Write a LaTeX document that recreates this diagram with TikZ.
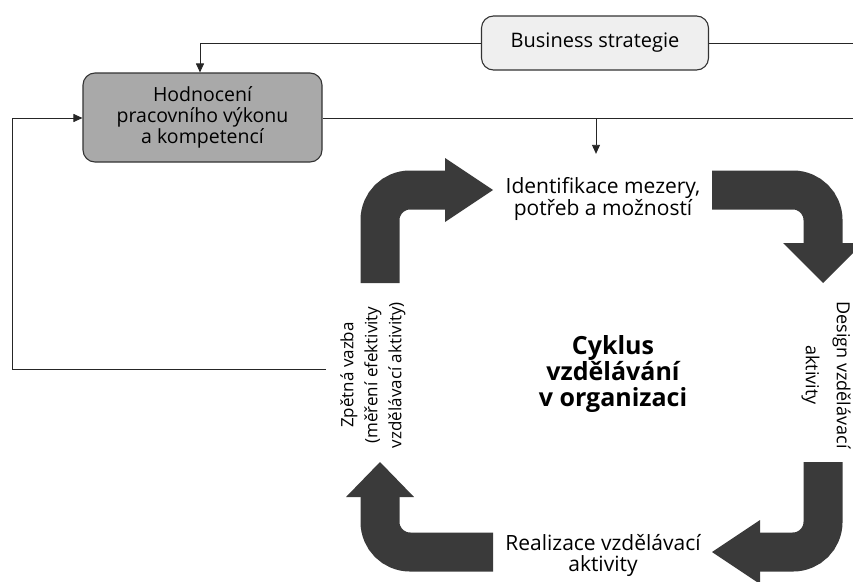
\documentclass[tikz,border=0pt]{standalone}
\usepackage{fontspec}
\setmainfont{Open Sans}
\usetikzlibrary{arrows.meta}
\definecolor{arrowgray}{HTML}{3A3A3A}
\definecolor{boxdark}{HTML}{A9A9A9}
\definecolor{boxlight}{HTML}{EFEFEF}
\definecolor{edgegray}{HTML}{333333}
\begin{document}
\begin{tikzpicture}[x=1pt,y=-1pt,
  box/.style={draw=edgegray, line width=1.1pt, rounded corners=12pt, align=center, inner sep=0pt},
  conn/.style={draw=black!85, line width=0.9pt},
  tip/.style={-{Triangle[length=9pt,width=8pt]}},
  cyc/.style={align=center, font=\fontsize{21}{21}\selectfont},
  side/.style={align=center, font=\fontsize{17}{24}\selectfont},
  bigarrow/.style={draw=arrowgray, line width=39pt, rounded corners=30pt},
  bighead/.style={fill=arrowgray}
]
\useasboundingbox (0,0) rectangle (853,581);
% boxes
\node[box, fill=boxlight, minimum width=227pt, minimum height=54pt,
      font=\fontsize{20}{21}\selectfont] (bs) at (595,43) {Business strategie};
\node[box, fill=boxdark, minimum width=239pt, minimum height=89pt,
      font=\fontsize{19.5}{21}\selectfont] (hod) at (202.5,117.5) {Hodnocení\\pracovního výkonu\\a kompetencí};
% cycle texts
\node[cyc] (ident) at (603,199) {Identifikace mezery,\\potřeb a možností};
\node[cyc] (real) at (603,555) {Realizace vzdělávací\\aktivity};
\node[side, rotate=90] (zpet) at (373,375) {Zpětná vazba\\(měření efektivity\\vzdělávací aktivity)};
\node[side, rotate=-90, font=\fontsize{18}{31}\selectfont] (design) at (826,375) {Design vzdělávací\\aktivity};
\node[align=center, font=\fontsize{25}{26}\selectfont\bfseries] (cyk) at (613,374) {Cyklus\\vzdělávání\\v organizaci};
% coordinates
\coordinate (bsl) at (200,43);
\coordinate (bsr) at (853,43);
\coordinate (hodr) at (853,118);
\coordinate (hodd) at (596,118);
\coordinate (fbend) at (326,369);
\coordinate (fbl) at (12,369);
\coordinate (fbt) at (12,118);
% connectors
\draw[conn] (bs.west) -- (bsl);
\draw[conn, tip] (bsl) -- (hod.north -| bsl);
\draw[conn] (bs.east) -- (bsr);
\draw[conn] (hod.east |- hodr) -- (hodr);
\draw[conn, tip, shorten >=20pt] (hodd) -- (hodd |- ident.north);
\draw[conn, tip] (fbend) -- (fbl) -- (fbt) -- (hod.west |- fbt);
% big cycle arrows
\draw[bigarrow] (380,283) -- (380,190) -- (447,190);
\fill[bighead] (445,158) -- (493,190) -- (445,222) -- cycle;
\draw[bigarrow] (712,190) -- (823,190) -- (823,245);
\fill[bighead] (783,243) -- (823,283) -- (863,243) -- cycle;
\draw[bigarrow] (823,462) -- (823,552) -- (758,552);
\fill[bighead] (760,520) -- (712,552) -- (760,584) -- cycle;
\draw[bigarrow] (493,552) -- (380,552) -- (380,495);
\fill[bighead] (346,497) -- (380,462) -- (414,497) -- cycle;
\end{tikzpicture}
\end{document}
